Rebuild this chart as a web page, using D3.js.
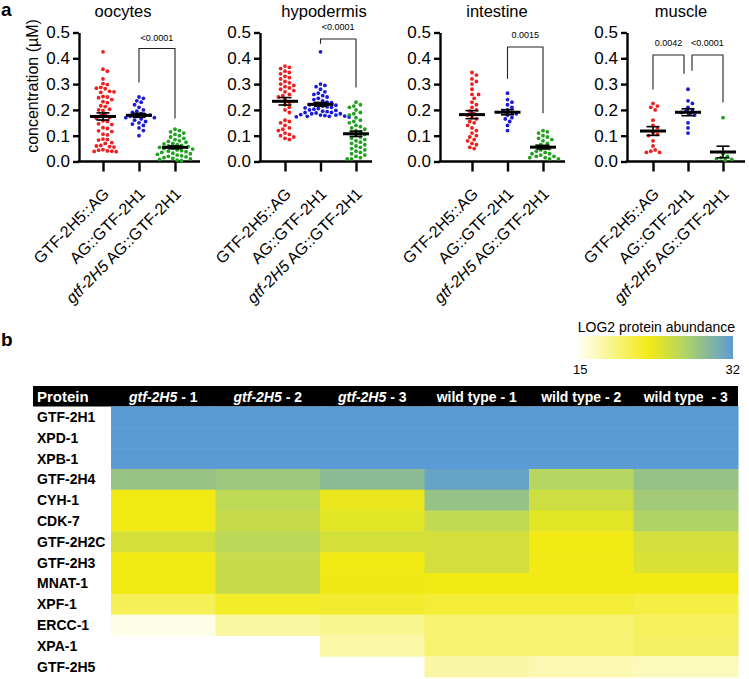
<!DOCTYPE html>
<html><head><meta charset="utf-8">
<script src="https://cdn.jsdelivr.net/npm/d3@7"></script>
<style>
body{margin:0;background:#fff}
svg{display:block}
text{font-family:'Liberation Sans',Arial,Helvetica,sans-serif;fill:#000}
</style>
</head><body>
<svg id="c" width="749" height="679"></svg>
<script>
// ---------- DATA: panel a ----------
const groups = ["GTF-2H5::AG", "AG::GTF-2H1", "gtf-2H5 AG::GTF-2H1"];
const tissues = ["oocytes", "hypodermis", "intestine", "muscle"];
const yTicks = [0, 0.1, 0.2, 0.3, 0.4, 0.5];

const oocytes_GTF2H5_AG = [0.425,0.358,0.35,0.32,0.302,0.298,0.287,0.284,0.282,0.272,0.27,0.268,0.252,0.25,0.247,0.24,0.232,0.228,0.216,0.213,0.203,0.2,0.197,0.182,0.178,0.171,0.168,0.158,0.155,0.146,0.143,0.131,0.128,0.119,0.116,0.106,0.103,0.087,0.085,0.083,0.073,0.07,0.062,0.06,0.058,0.056,0.046,0.044,0.041,0.04,0.039,0.038];
const oocytes_AG_GTF2H1 = [0.25,0.245,0.235,0.23,0.22,0.21,0.2,0.195,0.19,0.185,0.18,0.18,0.175,0.175,0.17,0.17,0.165,0.16,0.155,0.15,0.145,0.14,0.13,0.12,0.1];
const oocytes_gtf2H5_AG_GTF2H1 = [0.125,0.12,0.115,0.11,0.105,0.1,0.095,0.09,0.085,0.08,0.078,0.075,0.07,0.068,0.065,0.062,0.06,0.058,0.055,0.052,0.05,0.048,0.045,0.042,0.04,0.038,0.035,0.032,0.03,0.028,0.025,0.022,0.02,0.018,0.015,0.012,0.01,0.008,0.005,0.003];

const hypodermis_GTF2H5_AG = [0.37,0.365,0.36,0.35,0.345,0.34,0.33,0.325,0.32,0.31,0.305,0.3,0.295,0.29,0.285,0.28,0.275,0.27,0.26,0.255,0.25,0.24,0.23,0.22,0.21,0.2,0.19,0.16,0.155,0.15,0.14,0.13,0.125,0.12,0.11,0.105,0.1,0.095,0.09,0.085];
const hypodermis_AG_GTF2H1 = [0.425,0.3,0.295,0.29,0.28,0.27,0.265,0.26,0.255,0.25,0.245,0.24,0.235,0.23,0.228,0.225,0.222,0.22,0.218,0.215,0.212,0.21,0.208,0.205,0.203,0.2,0.198,0.195,0.193,0.19,0.19,0.188,0.185,0.185,0.182,0.18,0.18,0.178,0.176,0.175,0.175,0.173,0.172];
const hypodermis_gtf2H5_AG_GTF2H1 = [0.23,0.22,0.215,0.21,0.2,0.19,0.185,0.18,0.17,0.16,0.155,0.15,0.14,0.135,0.13,0.125,0.12,0.115,0.11,0.105,0.1,0.095,0.09,0.085,0.08,0.075,0.07,0.065,0.06,0.055,0.05,0.045,0.04,0.035,0.03,0.025,0.02,0.015,0.01,0.01];

const intestine_GTF2H5_AG = [0.345,0.335,0.32,0.31,0.3,0.28,0.26,0.26,0.245,0.23,0.22,0.21,0.2,0.195,0.185,0.18,0.17,0.165,0.155,0.15,0.14,0.13,0.12,0.11,0.1,0.095,0.085,0.08,0.07,0.065,0.055,0.05];
const intestine_AG_GTF2H1 = [0.265,0.24,0.23,0.22,0.21,0.2,0.195,0.19,0.185,0.18,0.17,0.165,0.155,0.14,0.12];
const intestine_gtf2H5_AG_GTF2H1 = [0.12,0.115,0.11,0.1,0.095,0.09,0.085,0.08,0.07,0.065,0.06,0.055,0.05,0.045,0.04,0.035,0.03,0.03,0.025,0.02,0.02,0.015,0.015,0.01,0.01];

const muscle_GTF2H5_AG = [0.225,0.215,0.21,0.2,0.16,0.14,0.13,0.11,0.105,0.1,0.08,0.06,0.045,0.04,0.035,0.035];
const muscle_AG_GTF2H1 = [0.28,0.235,0.225,0.21,0.2,0.195,0.19,0.185,0.18,0.15,0.13,0.11];
const muscle_gtf2H5_AG_GTF2H1 = [0.17,0.03,0.02,0.015,0.01,0.008,0.005];

// comparisons: [groupA, groupB, label, bracketTop, legA bottom, legB bottom, label y] (data units)
const oocytes_comparisons = [[1, 2, "<0.0001", 0.438, 0.306, 0.167, 0.468]];
const hypodermis_comparisons = [[1, 2, "<0.0001", 0.475, 0.456, 0.287, 0.508]];
const intestine_comparisons = [[1, 2, "0.0015", 0.444, 0.321, 0.187, 0.478]];
const muscle_comparisons = [[0, 1, "0.0042", 0.413, 0.279, 0.34, 0.446], [1, 2, "<0.0001", 0.413, 0.352, 0.229, 0.446]];

// ---------- DATA: panel b ----------
const proteins = ["GTF-2H1","XPD-1","XPB-1","GTF-2H4","CYH-1","CDK-7","GTF-2H2C","GTF-2H3","MNAT-1","XPF-1","ERCC-1","XPA-1","GTF-2H5"];
const samples = ["gtf-2H5 - 1","gtf-2H5 - 2","gtf-2H5 - 3","wild type - 1","wild type - 2","wild type  - 3"];
const abundance_gtf2H5_1 = [32,32,32,28.3,23.05,23.05,24.8,23.0,23.05,20.7,15.9,null,null];
const abundance_gtf2H5_2 = [32,32,32,28.0,26.1,25.5,26.2,25.6,25.6,22.3,18.2,null,null];
const abundance_gtf2H5_3 = [32,32,32,29.0,23.5,23.9,24.8,23.0,23.2,22.1,18.8,18.0,null];
const abundance_wt_1 = [32,32,32,31.3,28.4,25.9,24.9,24.9,23.0,21.8,19.9,19.9,18.1];
const abundance_wt_2 = [32,32,32,26.6,25.2,23.9,23.0,23.0,23.0,21.8,19.9,19.9,17.6];
const abundance_wt_3 = [32,32,32,28.4,27.7,26.9,24.9,24.5,23.0,21.4,20.5,20.3,17.3];
const legendTicks = [15, 32];

// ---------- DRAW ----------
const svg = d3.select("#c");
const dotColors = ["#f01e1e", "#1c1cd8", "#22a022"];
const tissueData = [
  [oocytes_GTF2H5_AG, oocytes_AG_GTF2H1, oocytes_gtf2H5_AG_GTF2H1],
  [hypodermis_GTF2H5_AG, hypodermis_AG_GTF2H1, hypodermis_gtf2H5_AG_GTF2H1],
  [intestine_GTF2H5_AG, intestine_AG_GTF2H1, intestine_gtf2H5_AG_GTF2H1],
  [muscle_GTF2H5_AG, muscle_AG_GTF2H1, muscle_gtf2H5_AG_GTF2H1]
];
const comparisons = [oocytes_comparisons, hypodermis_comparisons, intestine_comparisons, muscle_comparisons];
const layout = [
  {axisX: 79, x0: 103, x1: 175, end: 200, titleX: 123, bgap: 0},
  {axisX: 260, x0: 285, x1: 356, end: 372, titleX: 324, bgap: 0},
  {axisX: 440, x0: 472, x1: 543, end: 565, titleX: 497, bgap: 0},
  {axisX: 627, x0: 653, x1: 723, end: 745, titleX: 681, bgap: 4}
];
const y = d3.scaleLinear().domain([0, 0.5]).range([161.5, 32.5]);

svg.append("text").attr("x", 1).attr("y", 16).attr("font-size", 19).attr("font-weight", "bold").text("a");
svg.append("text").attr("x", 1).attr("y", 346).attr("font-size", 19).attr("font-weight", "bold").text("b");

svg.append("text")
  .attr("transform", "translate(38,86) rotate(-90)")
  .attr("text-anchor", "middle").attr("font-size", 16)
  .text("concentration (µM)");

function swarm(values, cx, r, gap) {
  const pts = values.map(v => ({v, py: y(v)})).sort((a, b) => a.py - b.py);
  const step = 2 * r + gap;
  const placed = [];
  pts.forEach(p => {
    for (let k = 0; k < 60; k++) {
      const off = k === 0 ? 0 : (k % 2 ? 1 : -1) * Math.ceil(k / 2) * step / 2;
      const px = cx + off;
      if (placed.every(q => Math.hypot(q.px - px, q.py - p.py) >= step)) {
        p.px = px; placed.push(p); break;
      }
    }
  });
  return placed;
}

tissues.forEach((t, i) => {
  const L = layout[i];
  const g = svg.append("g");
  const x = d3.scalePoint().domain(groups).range([L.x0, L.x1]);

  g.append("text").attr("x", L.titleX).attr("y", 17).attr("text-anchor", "middle")
    .attr("font-size", 16.5).text(t);

  const ya = g.append("g").attr("transform", `translate(${L.axisX},0)`)
    .call(d3.axisLeft(y).tickValues(yTicks).tickFormat(d3.format(".1f")).tickSize(6).tickSizeOuter(0).tickPadding(3));
  ya.select(".domain").attr("stroke-width", 2.4).attr("stroke", "#000");
  ya.selectAll(".tick line").attr("stroke-width", 2.4).attr("stroke", "#000");
  ya.selectAll(".tick text").attr("font-size", 17).attr("font-family", "'Liberation Sans',Arial,sans-serif").attr("fill", "#000");

  g.append("line").attr("x1", L.axisX - 1.2).attr("x2", L.end).attr("y1", y(0)).attr("y2", y(0))
    .attr("stroke", "#000").attr("stroke-width", 2.4);
  const xa = g.append("g").attr("transform", `translate(0,${y(0)})`)
    .call(d3.axisBottom(x).tickSize(10).tickFormat(""));
  xa.select(".domain").remove();
  xa.selectAll(".tick line").attr("stroke", "#000").attr("stroke-width", 2.4);

  groups.forEach((gr, j) => {
    const tx = g.append("text")
      .attr("transform", `translate(${x(gr) + 7},195) rotate(-45)`)
      .attr("text-anchor", "end").attr("font-size", 16);
    if (gr.startsWith("gtf-2H5")) {
      tx.append("tspan").attr("font-style", "italic").text("gtf-2H5");
      tx.append("tspan").text(gr.slice(7));
    } else tx.text(gr);
  });

  tissueData[i].forEach((vals, j) => {
    const cx = x(groups[j]);
    const pts = swarm(vals, cx, 1.9, 0.6);
    g.append("g").selectAll("circle").data(pts).join("circle")
      .attr("cx", d => d.px).attr("cy", d => d.py).attr("r", 1.9).attr("fill", dotColors[j]);
  });
  tissueData[i].forEach((vals, j) => {
    const cx = x(groups[j]);
    const m = d3.mean(vals);
    const sem = d3.deviation(vals) / Math.sqrt(vals.length);
    g.append("line").attr("x1", cx - 13).attr("x2", cx + 13).attr("y1", y(m)).attr("y2", y(m))
      .attr("stroke", "#000").attr("stroke-width", 3);
    g.append("line").attr("x1", cx).attr("x2", cx).attr("y1", y(m - sem)).attr("y2", y(m + sem))
      .attr("stroke", "#000").attr("stroke-width", 1.6);
    [m - sem, m + sem].forEach(v => g.append("line").attr("x1", cx - 6.5).attr("x2", cx + 6.5)
      .attr("y1", y(v)).attr("y2", y(v)).attr("stroke", "#000").attr("stroke-width", 1.6));
  });

  comparisons[i].forEach(c => {
    const xa_ = x(groups[c[0]]) + (c[0] === 1 ? L.bgap : 0);
    const xb_ = x(groups[c[1]]) - (c[1] === 1 ? L.bgap : 0);
    g.append("path")
      .attr("d", `M${xa_},${y(c[4])}V${y(c[3])}H${xb_}V${y(c[5])}`)
      .attr("fill", "none").attr("stroke", "#222").attr("stroke-width", 1.1);
    g.append("text").attr("x", (xa_ + xb_) / 2).attr("y", y(c[6])).attr("text-anchor", "middle")
      .attr("font-size", 9).attr("fill", "#222").text(c[2]);
  });
});

// ---------- Panel b: heatmap ----------
const color = d3.scaleLinear().domain([15, 23, 26.6, 32])
  .range(["#ffffff", "#f2ea14", "#b5d660", "#5b9bd5"]).clamp(true);
const columns = [abundance_gtf2H5_1, abundance_gtf2H5_2, abundance_gtf2H5_3, abundance_wt_1, abundance_wt_2, abundance_wt_3];

const hx = d3.scaleBand().domain(samples).range([111, 738]);
const hy = d3.scaleBand().domain(proteins).range([406.5, 677]);

svg.append("rect").attr("x", 33).attr("y", 386).attr("width", 738 - 33).attr("height", 20.5).attr("fill", "#000");
svg.append("text").attr("x", 37).attr("y", 402).attr("font-size", 15).attr("font-weight", "bold")
  .style("fill", "#fff").text("Protein");
samples.forEach(s => {
  const t = svg.append("text").attr("x", hx(s) + hx.bandwidth() / 2).attr("y", 401.5)
    .attr("text-anchor", "middle").attr("font-size", 14).attr("font-weight", "bold")
    .style("fill", "#fff").style("white-space", "pre");
  if (s.startsWith("gtf-2H5")) {
    t.append("tspan").attr("font-style", "italic").style("fill", "#fff").text("gtf-2H5");
    t.append("tspan").style("fill", "#fff").text(s.slice(7));
  } else t.text(s);
});

const cells = [];
columns.forEach((col, ci) => col.forEach((v, ri) => { if (v != null) cells.push({s: samples[ci], p: proteins[ri], v}); }));
svg.append("g").selectAll("rect").data(cells).join("rect")
  .attr("x", d => hx(d.s)).attr("y", d => hy(d.p))
  .attr("width", hx.bandwidth() + 0.5).attr("height", hy.bandwidth() + 0.5)
  .attr("fill", d => color(d.v));

svg.append("g").selectAll("text").data(proteins).join("text")
  .attr("x", 37).attr("y", d => hy(d) + hy.bandwidth() / 2 + 5)
  .attr("font-size", 14).attr("font-weight", "bold").text(d => d);

const defs = svg.append("defs");
const grad = defs.append("linearGradient").attr("id", "lg").attr("x1", "0%").attr("x2", "100%");
d3.range(0, 1.0001, 0.05).forEach(f => {
  const v = 15 + f * 17;
  grad.append("stop").attr("offset", (f * 100) + "%").attr("stop-color", color(v));
});
const lx = d3.scaleLinear().domain(legendTicks).range([575, 733]);
svg.append("rect").attr("x", lx(15)).attr("y", 336).attr("width", lx(32) - lx(15)).attr("height", 23).attr("fill", "url(#lg)");
svg.append("text").attr("x", 735).attr("y", 332).attr("text-anchor", "end").attr("font-size", 14).text("LOG2 protein abundance");
svg.append("text").attr("x", lx(15) - 2).attr("y", 374).attr("font-size", 13).text(legendTicks[0]);
svg.append("text").attr("x", lx(32) + 7).attr("y", 374).attr("text-anchor", "end").attr("font-size", 13).text(legendTicks[1]);
</script>
</body></html>
